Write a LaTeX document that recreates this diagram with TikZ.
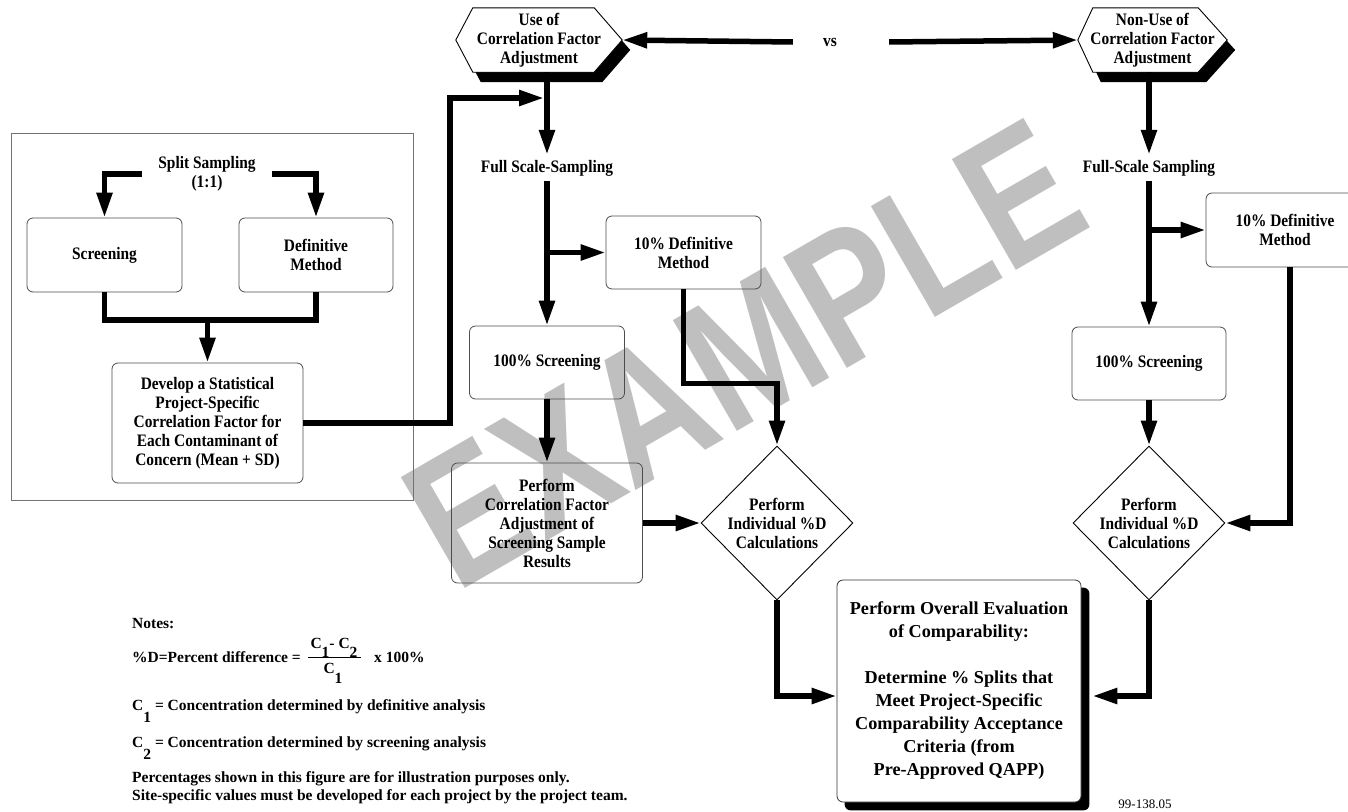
\documentclass[tikz,border=0pt]{standalone}
\usepackage{fontspec}
\usepackage{graphicx}
\setmainfont{Liberation Serif}
\newfontfamily\nodefont{Liberation Serif}[FakeStretch=0.88]
\newfontfamily\wmfont{Liberation Sans}
\usetikzlibrary{arrows.meta,shapes.geometric,calc}
\pgfdeclarelayer{wm}
\pgfdeclarelayer{bg}
\pgfsetlayers{wm,bg,main}
\tikzset{
  txt/.style={font=\nodefont\bfseries\fontsize{17.5}{19}\selectfont, align=center, inner sep=0pt},
  box/.style={txt, draw=black!70, line width=0.8pt, rounded corners=6pt},
  dia/.style={txt, diamond, draw=black, line width=0.9pt, minimum width=152pt, minimum height=154pt, inner sep=0pt},
  ln/.style={line width=5.5pt, line join=miter},
  arr/.style={ln, -{Triangle[length=25pt,width=15pt]}},
  hexbg/.style={fill=white, draw=black, line width=0.9pt},
  note/.style={font=\bfseries\fontsize{15.5}{18}\selectfont, inner sep=0pt, anchor=base west, align=left},
  notec/.style={font=\bfseries\fontsize{15.5}{18}\selectfont, inner sep=0pt, anchor=base},
}
\begin{document}
\begin{tikzpicture}[x=1pt,y=-1pt]
\useasboundingbox (0,0) rectangle (1348,811);

% watermark
\begin{pgfonlayer}{wm}
\node[text=black!25, rotate=30, inner sep=0pt, font=\wmfont\bfseries\fontsize{186}{186}\selectfont] (wmk) at (744,354) {\scalebox{0.82}[1]{EXAMPLE}};
\end{pgfonlayer}

% left panel
\node[draw=black!55, line width=0.8pt, minimum width=402pt, minimum height=367pt, inner sep=0pt] (panel) at (212,316.5) {};
\node[txt, inner xsep=16pt, inner ysep=3pt] (ss) at (207,174) {Split Sampling\\(1:1)};
\node[box, minimum width=155pt, minimum height=74pt] (scr) at (104.5,255) {Screening};
\node[box, minimum width=154pt, minimum height=74pt] (def) at (316,255) {Definitive\\Method};
\node[box, minimum width=191pt, minimum height=120pt] (dev) at (207.5,423) {Develop a Statistical\\Project-Specific\\Correlation Factor for\\Each Contaminant of\\Concern (Mean + SD)};

% hexagons
\node[txt, minimum width=166pt, minimum height=64pt] (h1) at (539,40) {Use of\\Correlation Factor\\Adjustment};
\node[txt, minimum width=149pt, minimum height=64pt] (h2) at (1152.5,40) {Non-Use of\\Correlation Factor\\Adjustment};
\node[txt, inner sep=0pt] (vs) at (830,42) {vs};
\begin{pgfonlayer}{bg}
\fill[black] ([xshift=25pt,yshift=-10pt]h1.north west) -- ([xshift=-20pt,yshift=-10pt]h1.north east) -- ([xshift=8pt,yshift=-10pt]h1.east) -- ([xshift=-20pt,yshift=-10pt]h1.south east) -- ([xshift=25pt,yshift=-10pt]h1.south west) -- ([xshift=8pt,yshift=-10pt]h1.west) -- cycle;
\filldraw[hexbg] ([xshift=17pt]h1.north west) -- ([xshift=-28pt]h1.north east) -- (h1.east) -- ([xshift=-28pt]h1.south east) -- ([xshift=17pt]h1.south west) -- (h1.west) -- cycle;
\fill[black] ([xshift=23pt,yshift=-10pt]h2.north west) -- ([xshift=-21pt,yshift=-10pt]h2.north east) -- ([xshift=8pt,yshift=-10pt]h2.east) -- ([xshift=-21pt,yshift=-10pt]h2.south east) -- ([xshift=23pt,yshift=-10pt]h2.south west) -- ([xshift=8pt,yshift=-10pt]h2.west) -- cycle;
\filldraw[hexbg] ([xshift=15pt]h2.north west) -- ([xshift=-29pt]h2.north east) -- (h2.east) -- ([xshift=-29pt]h2.south east) -- ([xshift=15pt]h2.south west) -- (h2.west) -- cycle;
\end{pgfonlayer}

% middle column
\node[txt, inner ysep=5pt] (fss) at (547,168) {Full Scale-Sampling};
\node[box, minimum width=155pt, minimum height=73pt] (def2) at (683.5,252.5) {10\% Definitive\\Method};
\node[box, minimum width=155pt, minimum height=73pt] (scr2) at (547,362.5) {100\% Screening};
\node[box, minimum width=191pt, minimum height=120pt] (pcf) at (547,523) {Perform\\Correlation Factor\\Adjustment of\\Screening Sample\\Results};
\node[dia] (d1) at (777,523) {Perform\\Individual \%D\\Calculations};

% right column
\node[txt, inner ysep=5pt] (fss2) at (1149,168) {Full-Scale Sampling};
\node[box, minimum width=158pt, minimum height=74pt] (def3) at (1285,230) {10\% Definitive\\Method};
\node[box, minimum width=154pt, minimum height=73pt] (scr3) at (1149,363.5) {100\% Screening};
\node[dia] (d2) at (1149,523) {Perform\\Individual \%D\\Calculations};

% big box
\node[box, draw=black!80, fill=white, font=\bfseries\fontsize{18.2}{23}\selectfont, minimum width=244pt, minimum height=222pt] (big) at (959,691) {Perform Overall Evaluation\\of Comparability:\\[23pt]Determine \% Splits that\\Meet Project-Specific\\Comparability Acceptance\\Criteria (from\\Pre-Approved QAPP)};
\begin{pgfonlayer}{bg}
\fill[black, rounded corners=6pt] ([xshift=8pt,yshift=-8pt]big.north west) rectangle ([xshift=8pt,yshift=-8pt]big.south east);
\end{pgfonlayer}

% connectors
\coordinate (j1) at (207.5,320);
\coordinate (k1) at (450,98);
\coordinate (j2) at (544,98);
\draw[arr] (ss.west) -| (scr.north);
\draw[arr] (ss.east) -| (def.north);
\draw[ln] (scr.south) |- (j1) -| (def.south);
\draw[arr] (j1) -- (dev.north);
\draw[arr] (dev.east) -| (k1) -- (j2);

\draw[arr] ([xshift=-30pt]vs.west) -- (h1.east);
\draw[arr] ([xshift=52pt]vs.east) -- (h2.west);
\draw[arr] ([xshift=8pt]h1.south) -- (fss.north);
\draw[arr] ([xshift=-3.5pt]h2.south) -- (fss2.north);

\draw[arr] (fss.south) -- (scr2.north);
\draw[arr] (fss.south |- def2.west) -- (def2.west);
\draw[arr] (scr2.south) -- (pcf.north);
\draw[arr] (pcf.east) -- (d1.west);
\draw[arr] (def2.south) -- ++(0,94) -| (d1.north);
\draw[arr] (d1.south) |- ([yshift=-5pt]big.west);

\draw[arr] (fss2.south) -- (scr3.north);
\draw[arr] (fss2.south |- def3.west) -- (def3.west);
\draw[arr] (scr3.south) -- (d2.north);
\draw[arr] ([xshift=5pt]def3.south) |- (d2.east);
\draw[arr] (d2.south) |- ([xshift=11pt,yshift=-5pt]big.east);

% notes
\node[note] (n1) at (132,628) {Notes:};
\node[note] (n2) at (132,662) {\%D=Percent difference =};
\node[notec] (num) at (334,648) {C\raisebox{-9pt}{1}- C\raisebox{-9pt}{2}};
\node[notec] (den) at (333,673) {C\raisebox{-10pt}{1}};
\coordinate (fb1) at (308,657);
\coordinate (fb2) at (361,657);
\draw[line width=0.8pt] (fb1) -- (fb2);
\node[note] (n2b) at (374,662) {x 100\%};
\node[note] (n3) at (132,710) {C\raisebox{-12pt}{1} = Concentration determined by definitive analysis};
\node[note] (n4) at (132,747) {C\raisebox{-12pt}{2} = Concentration determined by screening analysis};
\node[note] (n5) at (132,782) {Percentages shown in this figure are for illustration purposes only.};
\node[note] (n6) at (132,800) {Site-specific values must be developed for each project by the project team.};
\node[font=\fontsize{13}{15}\selectfont, anchor=base, inner sep=0pt] (idl) at (1145,808) {99-138.05};
\end{tikzpicture}
\end{document}
